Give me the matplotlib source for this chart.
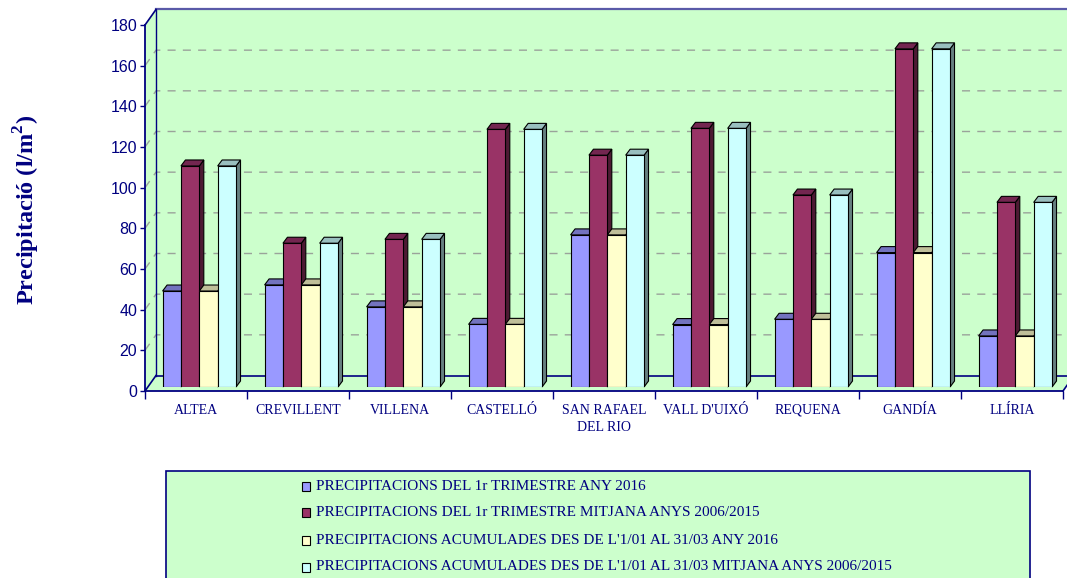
import matplotlib.pyplot as plt
from matplotlib.patches import Polygon, Rectangle

categories = ["ALTEA", "CREVILLENT", "VILLENA", "CASTELLÓ", "SAN RAFAEL\nDEL RIO",
              "VALL D'UIXÓ", "REQUENA", "GANDÍA", "LLÍRIA"]
trim_2016 = [47.2, 50.2, 39.4, 30.8, 74.8, 30.7, 33.3, 66.1, 25.1]
trim_mitjana = [108.7, 70.7, 72.6, 126.7, 114.0, 127.2, 94.4, 166.3, 90.8]
acum_2016 = [47.2, 50.2, 39.4, 30.8, 74.8, 30.7, 33.3, 66.1, 25.1]
acum_mitjana = [108.7, 70.7, 72.6, 126.7, 114.0, 127.2, 94.4, 166.3, 90.8]
labels = [
    "PRECIPITACIONS DEL 1r TRIMESTRE ANY 2016",
    "PRECIPITACIONS DEL 1r TRIMESTRE MITJANA ANYS 2006/2015",
    "PRECIPITACIONS ACUMULADES DES DE L'1/01 AL 31/03 ANY 2016",
    "PRECIPITACIONS ACUMULADES DES DE L'1/01 AL 31/03 MITJANA ANYS 2006/2015",
]
series = [trim_2016, trim_mitjana, acum_2016, acum_mitjana]

# front, top, side
colors = [
    ("#9999ff", "#7373bf", "#4d4d80"),
    ("#993366", "#732650", "#4d1a33"),
    ("#ffffcc", "#bfbf99", "#808066"),
    ("#ccffff", "#99bfbf", "#668080"),
]
green = "#ccffcc"
navy = "#000080"

plt.rcParams["mathtext.fontset"] = "custom"
plt.rcParams["mathtext.rm"] = "Liberation Serif:bold"
plt.rcParams["mathtext.bf"] = "Liberation Serif:bold"

W, H = 1067, 578
fig = plt.figure(figsize=(W / 100, H / 100), dpi=100)

ax_f = fig.add_axes([145 / W, (H - 391) / H, 918 / W, 366 / H])
ax_b = fig.add_axes([148.3 / W, (H - 387) / H, 918 / W, 366 / H])
for a in (ax_f, ax_b):
    a.set_xlim(-0.5, 8.5)
    a.set_ylim(0, 180)
    a.patch.set_visible(False)
ax_b.axis("off")

# pixel -> data
sx = 9 / 918
sy = 180 / 366
dx, dy = 11 * sx, 15.5 * sy

# walls and floor
x0, x1 = -0.5, 8.5
for pts in [
    [(x0 + dx, dy), (x1 + dx, dy), (x1 + dx, 180 + dy), (x0 + dx, 180 + dy)],
    [(x0, 0), (x0 + dx, dy), (x0 + dx, 180 + dy), (x0, 180)],
    [(x0, 0), (x1, 0), (x1 + dx, dy), (x0 + dx, dy)],
]:
    ax_f.add_patch(Polygon(pts, closed=True, fc=green, ec="none", clip_on=False, zorder=0.5))

for v in range(20, 180, 20):
    ax_f.plot([x0, x0 + dx, x1 + dx], [v, v + dy, v + dy], color="#9aa39a", lw=1.0,
              dashes=(5.8, 5.2), clip_on=False, zorder=0.8)

ax_f.plot([x0 + dx, x1 + dx], [dy, dy], color=navy, lw=1.2, clip_on=False, zorder=1)
ax_f.plot([x0 + dx, x0 + dx], [dy, 180 + dy], color=navy, lw=1.0, clip_on=False, zorder=1)
ax_f.plot([x0 + dx, x1 + dx], [180 + dy, 180 + dy], color="#5a5aa8", lw=1.6, clip_on=False, zorder=1)
ax_f.plot([x0, x0 + dx], [0, dy], color=navy, lw=1.2, clip_on=False, zorder=1)
ax_f.plot([x0, x0 + dx], [180, 180 + dy], color=navy, lw=1.2, clip_on=False, zorder=1)
ax_f.plot([x1, x1 + dx], [0, dy], color=navy, lw=1.2, clip_on=False, zorder=1)

for s in ("top", "right"):
    ax_f.spines[s].set_visible(False)
for s in ("left", "bottom"):
    ax_f.spines[s].set_color(navy)
    ax_f.spines[s].set_linewidth(1.3)

ax_f.set_yticks(range(0, 181, 20))
ax_f.tick_params(axis="y", colors=navy, labelsize=11.5, length=3.6, width=1.0, pad=2)
for t in ax_f.get_yticklabels():
    t.set_fontfamily("Liberation Sans")
ax_f.set_xticks(range(len(categories)))
ax_f.set_xticklabels(categories, fontfamily="Liberation Serif", fontsize=10, color=navy,
                     linespacing=1.45)
ax_f.set_xticks([i - 0.5 for i in range(len(categories) + 1)], minor=True)
ax_f.tick_params(axis="x", which="major", length=0, pad=9)
ax_f.tick_params(axis="x", which="minor", length=5.8, width=1.0, color=navy)

# bars
bw = 0.18
bdx, bdy = 4.5 * sx, 6 * sy
for k, vals in enumerate(series):
    front, top, side = colors[k]
    z = 2 + k
    for i, h in enumerate(vals):
        xl = i - 0.36 + k * bw
        xr = xl + bw
        ax_b.add_patch(Polygon([(xr, 0), (xr + bdx, bdy), (xr + bdx, h + bdy), (xr, h)],
                               closed=True, fc=side, ec="black", lw=0.8, zorder=z, clip_on=False))
        ax_b.add_patch(Polygon([(xl, h), (xr, h), (xr + bdx, h + bdy), (xl + bdx, h + bdy)],
                               closed=True, fc=top, ec="black", lw=0.8, zorder=z, clip_on=False))
    ax_b.bar([i - 0.36 + k * bw for i in range(len(vals))], vals, width=bw, align="edge",
             color=front, edgecolor="black", linewidth=0.8, zorder=z)

fig.text(27 / W, 1 - 210 / H, "Precipitació (l/m$^\\mathbf{2}$)", rotation=90,
         ha="center", va="center", fontsize=17.5, fontweight="bold",
         fontfamily="Liberation Serif", color=navy)

# legend
fig.patches.append(Rectangle((166 / W, -0.05), (1030 - 166) / W, 0.05 + (H - 471) / H,
                             transform=fig.transFigure, fc=green, ec=navy, lw=1.2))
for k, lab in enumerate(labels):
    yc = [486, 512, 540, 567][k]
    fig.patches.append(Rectangle((302 / W, 1 - (yc + 4.5) / H), 8 / W, 9 / H,
                                 transform=fig.transFigure, fc=colors[k][0], ec="black", lw=0.8))
    fig.text(316 / W, 1 - yc / H, lab, ha="left", va="center", fontsize=11,
             fontfamily="Liberation Serif", color=navy)

fig.savefig("out.png", dpi=100)
